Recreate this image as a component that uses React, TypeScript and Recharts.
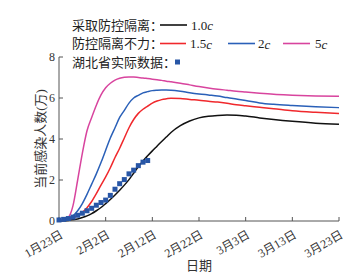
import { ComposedChart, Line, XAxis, YAxis, Label } from 'recharts';

// 天数（以1月23日为第0天）
const dayGrid = [
  0, 1, 2, 3, 4, 5, 6, 7, 8, 9, 10, 11, 12, 13, 14, 15, 16, 17, 18, 19, 20, 21, 22, 23, 24,
  26, 28, 30, 32, 34, 36, 38, 40, 43, 46, 50, 55, 60,
];

// 采取防控隔离 1.0c
const c10 = [
  0, 0.01, 0.03, 0.06, 0.1, 0.17, 0.25, 0.36, 0.5, 0.66, 0.85, 1.05, 1.27, 1.5, 1.75, 2.02, 2.33, 2.65, 2.93, 3.18, 3.42, 3.65, 3.88, 4.1, 4.32,
  4.65, 4.88, 5.03, 5.11, 5.15, 5.17, 5.16, 5.12, 5.03, 4.95, 4.86, 4.77, 4.72,
];

// 防控隔离不力 1.5c / 2c / 5c
const c15 = [
  0.01, 0.03, 0.08, 0.15, 0.28, 0.42, 0.65, 0.95, 1.33, 1.75, 2.15, 2.6, 3.1, 3.55, 4.05, 4.55, 4.95, 5.25, 5.45, 5.6, 5.75, 5.85, 5.92, 5.96, 5.99,
  5.98, 5.93, 5.89, 5.84, 5.8, 5.74, 5.67, 5.62, 5.55, 5.48, 5.38, 5.3, 5.24,
];
const c20 = [
  0.01, 0.05, 0.12, 0.25, 0.5, 0.85, 1.3, 1.8, 2.3, 2.85, 3.45, 4.05, 4.55, 5.05, 5.4, 5.75, 6.0, 6.13, 6.25, 6.31, 6.36, 6.38, 6.39, 6.39, 6.38,
  6.33, 6.26, 6.2, 6.15, 6.1, 6.02, 5.95, 5.88, 5.76, 5.69, 5.63, 5.57, 5.53,
];
const c50 = [
  0.02, 0.08, 0.18, 0.75, 2.0, 3.3, 4.4, 5.05, 5.65, 6.15, 6.5, 6.72, 6.87, 6.96, 7.01, 7.03, 7.02, 7.0, 6.98, 6.95, 6.92, 6.89, 6.86, 6.82, 6.79,
  6.72, 6.64, 6.56, 6.49, 6.43, 6.38, 6.33, 6.29, 6.23, 6.18, 6.14, 6.1, 6.08,
];

// 湖北省实际数据（万）
const hubeiDays = [0, 1, 2, 3, 4, 5, 6, 7, 8, 9, 10, 11, 12, 13, 14, 15, 16, 17, 18, 19];
const hubeiValues = [
  0.05, 0.08, 0.12, 0.19, 0.28, 0.38, 0.5, 0.62, 0.77, 0.9, 1.02, 1.25, 1.55, 1.82, 2.02, 2.3, 2.48, 2.7, 2.87, 2.95,
];

const xTicks = [0, 10, 20, 30, 40, 50, 60];
const xTickLabels = ['1月23日', '2月2日', '2月12日', '2月22日', '3月3日', '3月13日', '3月23日'];
const yTicks = [0, 2, 4, 6, 8];

const FONT = "'Liberation Serif', 'Noto Sans CJK SC', serif";
const AXIS = '#555';
const TEXT = '#333';

const COL_10 = '#111111';
const COL_15 = '#f0282c';
const COL_20 = '#2a60b8';
const COL_50 = '#d8449e';
const COL_PT = '#2856a6';

const data = dayGrid.map((day, i) => {
  const k = hubeiDays.indexOf(day);
  return {
    day,
    c10: c10[i],
    c15: c15[i],
    c20: c20[i],
    c50: c50[i],
    hubei: k >= 0 ? hubeiValues[k] : null,
  };
});

// eslint-disable-next-line @typescript-eslint/no-explicit-any
const XTick = (props: any) => {
  const { x, y, payload } = props;
  const idx = xTicks.indexOf(payload.value);
  const tx = x + 5;
  return (
    <text
      x={tx}
      y={y}
      transform={`rotate(-30, ${tx}, ${y})`}
      textAnchor="end"
      fontSize={12}
      fontFamily={FONT}
      fill={TEXT}
    >
      {xTickLabels[idx]}
    </text>
  );
};

// eslint-disable-next-line @typescript-eslint/no-explicit-any
const SquareDot = (props: any) => {
  const { cx, cy, index } = props;
  if (cx == null || cy == null) return <g key={`d${index}`} />;
  return <rect key={`d${index}`} x={cx - 2.5} y={cy - 2.5} width={5} height={5} fill={COL_PT} />;
};

const Legend = () => (
  <svg
    width={359}
    height={80}
    style={{ position: 'absolute', left: 0, top: 0, pointerEvents: 'none' }}
    fontFamily={FONT}
    fontSize={13}
    fill="#222"
  >
    <text x={72} y={25} dominantBaseline="central">采取防控隔离：</text>
    <line x1={160} x2={187} y1={25} y2={25} stroke={COL_10} strokeWidth={1.6} />
    <text x={191} y={25} dominantBaseline="central">
      1.0<tspan fontStyle="italic">c</tspan>
    </text>

    <text x={72} y={43.5} dominantBaseline="central">防控隔离不力：</text>
    <line x1={160} x2={186} y1={43.5} y2={43.5} stroke={COL_15} strokeWidth={1.6} />
    <text x={190} y={43.5} dominantBaseline="central">
      1.5<tspan fontStyle="italic">c</tspan>
    </text>
    <line x1={228} x2={255} y1={43.5} y2={43.5} stroke={COL_20} strokeWidth={1.6} />
    <text x={258} y={43.5} dominantBaseline="central">
      2<tspan fontStyle="italic">c</tspan>
    </text>
    <line x1={283} x2={310} y1={43.5} y2={43.5} stroke={COL_50} strokeWidth={1.6} />
    <text x={315} y={43.5} dominantBaseline="central">
      5<tspan fontStyle="italic">c</tspan>
    </text>

    <text x={72} y={62} dominantBaseline="central">湖北省实际数据：</text>
    <rect x={175} y={59.5} width={5} height={5} fill={COL_PT} />
  </svg>
);

export default function App() {
  return (
    <div style={{ position: 'absolute', left: 0, top: 0, width: 359, height: 275, background: '#fff' }}>
      <ComposedChart width={359} height={275} data={data} margin={{ top: 57, right: 20, bottom: 0, left: 19 }}>
        <XAxis
          dataKey="day"
          type="number"
          domain={[0, 60]}
          ticks={xTicks}
          height={54}
          stroke={AXIS}
          tickSize={-4}
          tickMargin={20}
          tick={<XTick />}
          interval={0}
        >
          <Label value="日期" position="center" dy={17} fontSize={13} fontFamily={FONT} fill={TEXT} />
        </XAxis>
        <YAxis
          type="number"
          domain={[0, 8]}
          ticks={yTicks}
          width={40}
          stroke={AXIS}
          tickSize={-4}
          tickMargin={8}
          tick={{ fontSize: 12, fontFamily: FONT, fill: TEXT }}
          interval={0}
        >
          <Label
            value="当前感染人数(万)"
            position="center"
            angle={-90}
            dx={1}
            fontSize={13}
            fontFamily={FONT}
            fill={TEXT}
          />
        </YAxis>
        <Line dataKey="c10" type="monotone" stroke={COL_10} strokeWidth={1.5} dot={false} isAnimationActive={false} />
        <Line dataKey="c15" type="monotone" stroke={COL_15} strokeWidth={1.5} dot={false} isAnimationActive={false} />
        <Line dataKey="c20" type="monotone" stroke={COL_20} strokeWidth={1.5} dot={false} isAnimationActive={false} />
        <Line dataKey="c50" type="monotone" stroke={COL_50} strokeWidth={1.5} dot={false} isAnimationActive={false} />
        <Line
          dataKey="hubei"
          stroke="none"
          dot={<SquareDot />}
          activeDot={false}
          isAnimationActive={false}
        />
      </ComposedChart>
      <Legend />
    </div>
  );
}
